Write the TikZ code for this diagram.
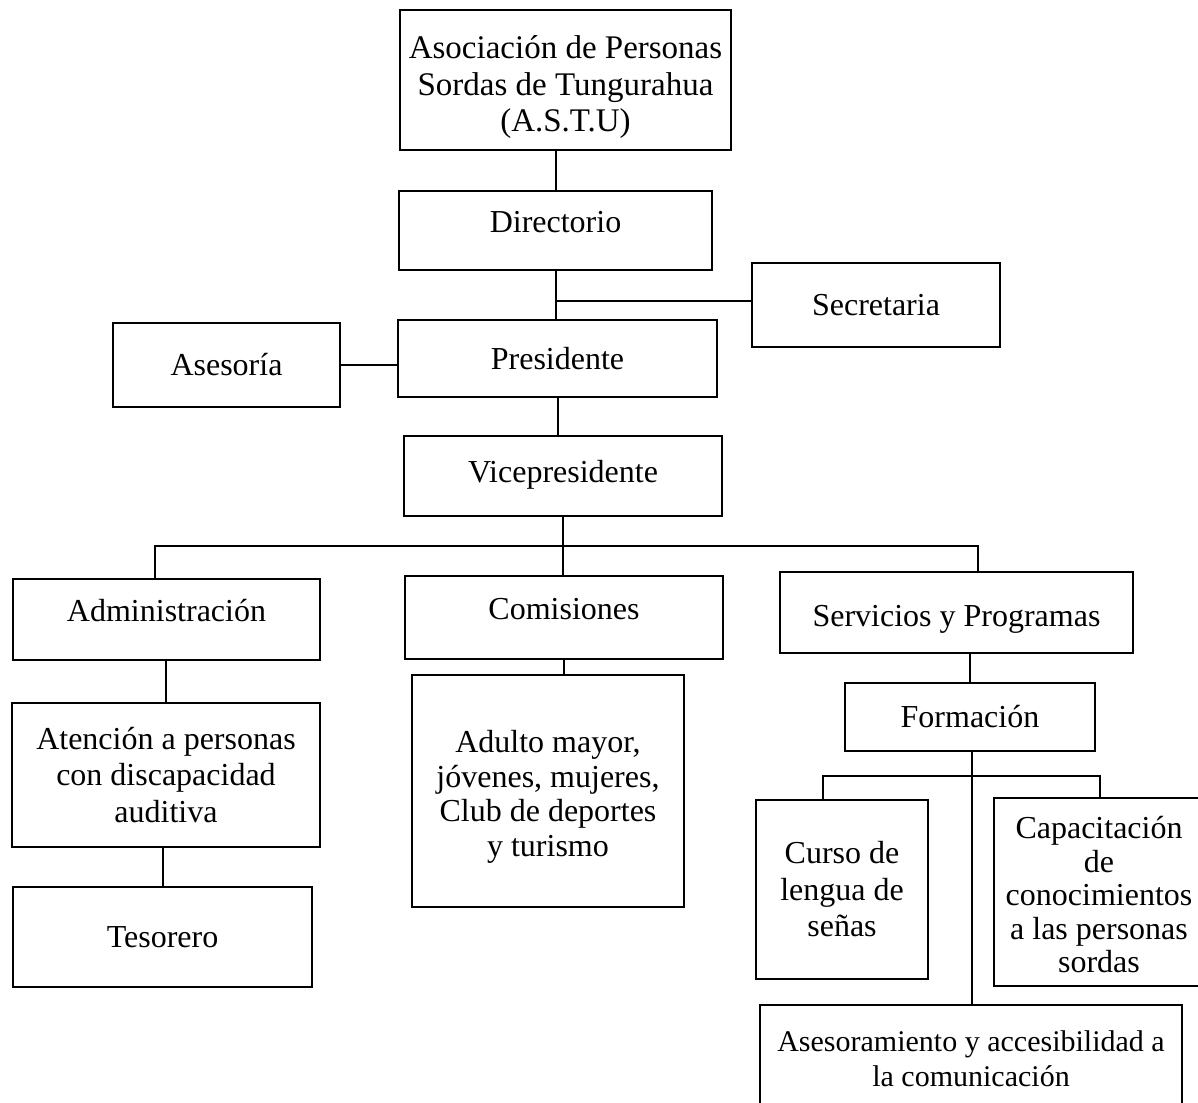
\documentclass[tikz,border=0pt]{standalone}
\usepackage{fontspec}
\setmainfont{Liberation Serif}
\begin{document}
\begin{tikzpicture}[x=0.5pt,y=-0.5pt,
  box/.style={draw,line width=1.2pt,rectangle,inner sep=0pt,align=center,
    font=\fontsize{16pt}{18.25pt}\selectfont},
  conn/.style={line width=1pt}]
\useasboundingbox (0,0) rectangle (1198,1102);
\clip (0,0) rectangle (1198,1102);
\fill[white] (0,0) rectangle (1198,1102);
% boxes
\node[box,minimum width=165.5pt,minimum height=70pt,font=\fontsize{16.5pt}{18.25pt}\selectfont] (astu) at (565.5,80)
  {\rule{0pt}{19pt}Asociación de Personas\\Sordas de Tungurahua\\(A.S.T.U)};
\node[box,minimum width=156.5pt,minimum height=39.5pt,text depth=9pt] (dir) at (555.5,230.5) {Directorio};
\node[box,minimum width=124pt,minimum height=42pt] (sec) at (876,305) {Secretaria};
\node[box,minimum width=159.5pt,minimum height=38.5pt] (pres) at (557.5,358.5) {Presidente};
\node[box,minimum width=113.5pt,minimum height=42pt] (ases) at (226.5,365) {Asesoría};
\node[box,minimum width=159pt,minimum height=40pt,text depth=4.5pt] (vice) at (563,476) {Vicepresidente};
\node[box,minimum width=153.5pt,minimum height=40.5pt,text depth=9pt] (adm) at (166.5,619.5) {Administración};
\node[box,minimum width=159pt,minimum height=41.5pt,text depth=8.5pt] (com) at (564,617.5) {Comisiones};
\node[box,minimum width=176.5pt,minimum height=40.5pt] (serv) at (956.5,612.5) {\rule{0pt}{17pt}Servicios y Programas};
\node[box,minimum width=154pt,minimum height=72pt] (aten) at (166,775)
  {Atención a personas\\con discapacidad\\auditiva};
\node[box,minimum width=149.5pt,minimum height=50pt] (tes) at (162.5,937) {Tesorero};
\node[box,minimum width=136pt,minimum height=116pt,font=\fontsize{16pt}{17.25pt}\selectfont] (adu) at (548,791)
  {\rule{0pt}{17pt}Adulto mayor,\\jóvenes, mujeres,\\Club de deportes\\y turismo};
\node[box,minimum width=125pt,minimum height=34pt] (form) at (970,717) {Formación};
\node[box,minimum width=86pt,minimum height=89.5pt] (curso) at (842,889.5)
  {Curso de\\lengua de\\señas};
\node[box,minimum width=105pt,minimum height=94pt,font=\fontsize{16pt}{16.75pt}\selectfont] (cap) at (1099,892)
  {\rule{0pt}{14pt}Capacitación\\de\\conocimientos\\a las personas\\sordas};
\node[box,minimum width=211pt,minimum height=53.5pt,font=\fontsize{15pt}{17.75pt}\selectfont] (aseso) at (971,1058.5)
  {Asesoramiento y accesibilidad a\\la comunicación};
% connectors
\draw[conn] (dir.north) -- (dir.north |- astu.south);
\draw[conn] (dir.south) -- (dir.south |- pres.north);
\draw[conn] ([yshift=2pt]sec.west) -- ([yshift=2pt]sec.west -| dir.south);
\draw[conn] (ases.east) -- (ases.east -| pres.west);
\draw[conn] (pres.south) -- (pres.south |- vice.north);
\coordinate (busL) at (155,546);
\coordinate (busR) at (978,546);
\draw[conn] (vice.south) -- (vice.south |- com.north);
\draw[conn] (busL |- adm.north) -- (busL) -- (busR) -- (busR |- serv.north);
\draw[conn] (aten.north) -- (aten.north |- adm.south);
\draw[conn] (tes.north) -- (tes.north |- aten.south);
\draw[conn] (com.south) -- (com.south |- adu.north);
\draw[conn] (form.north) -- (form.north |- serv.south);
\draw[conn] ([xshift=1pt]form.south) -- ([xshift=1pt]form.south |- aseso.north);
\coordinate (fL) at (823,776);
\coordinate (fR) at (1100,776);
\draw[conn] (fL |- curso.north) -- (fL) -- (fR) -- (fR |- cap.north);
\end{tikzpicture}
\end{document}
